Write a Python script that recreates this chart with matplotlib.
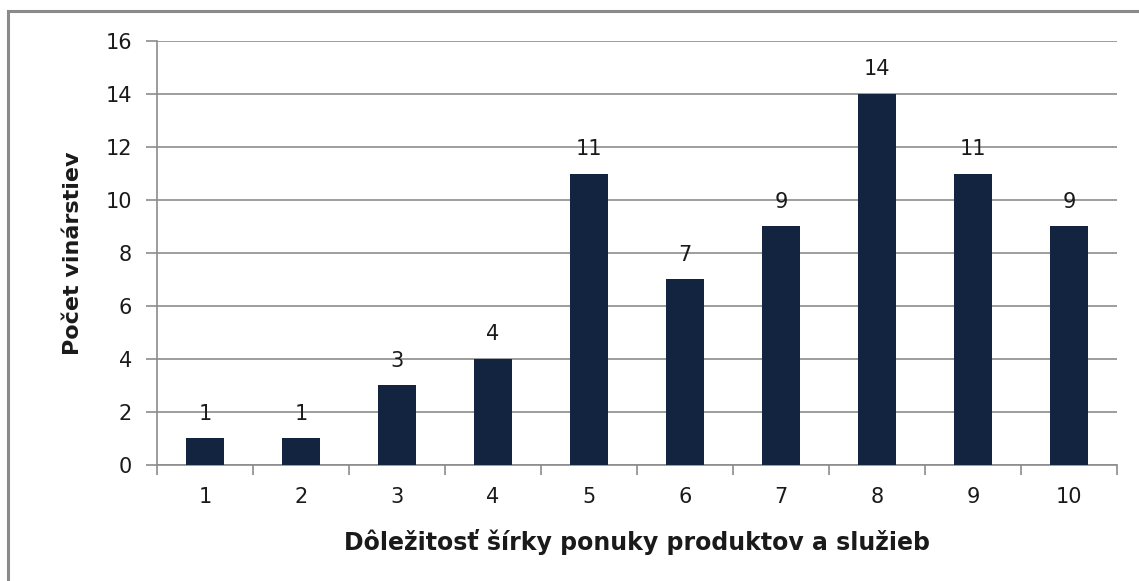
import matplotlib.pyplot as plt
import matplotlib.patches as mpatches

# data
categories = ["1", "2", "3", "4", "5", "6", "7", "8", "9", "10"]
counts = [1, 1, 3, 4, 11, 7, 9, 14, 11, 9]
y_ticks = [0, 2, 4, 6, 8, 10, 12, 14, 16]

x_title = "Dôležitosť šírky ponuky produktov a služieb"
y_title = "Počet vinárstiev"

bar_color = "#12243f"
grid_color = "#8c8c8c"
text_color = "#1a1a1a"

fig = plt.figure(figsize=(11.39, 5.81), dpi=100)
ax = fig.add_axes([0.1378, 0.1997, 0.8429, 0.7297])

# outer frame (only top and left edges fall inside the image)
frame = mpatches.Rectangle((8 / 1139, -0.05), 1.2, 1 - 11 / 581 + 0.05,
                           transform=fig.transFigure, fill=False,
                           edgecolor="#8a8a8a", linewidth=2.2, zorder=0)
fig.patches.append(frame)

xs = list(range(len(categories)))
ax.bar(xs, counts, width=0.4, color=bar_color, zorder=3)

for x, v in zip(xs, counts):
    ax.text(x, v + 0.55, str(v), ha="center", va="bottom",
            fontsize=15, color=text_color)

ax.set_xlim(-0.5, len(categories) - 0.5)
ax.set_ylim(0, 16)
ax.set_yticks(y_ticks)
ax.set_yticklabels([str(t) for t in y_ticks], fontsize=15, color=text_color)
ax.set_xticks(xs)
ax.set_xticklabels(categories, fontsize=15, color=text_color)
ax.set_xticks([x - 0.5 for x in range(len(categories) + 1)], minor=True)

ax.tick_params(axis="x", which="major", length=0, pad=16)
ax.tick_params(axis="x", which="minor", length=7, width=1.2, color=grid_color, direction="out")
ax.tick_params(axis="y", length=8, width=1.2, color=grid_color, direction="out", pad=10)

ax.yaxis.grid(True, color=grid_color, linewidth=1.2, zorder=0)
ax.set_axisbelow(True)

for side in ["top", "right"]:
    ax.spines[side].set_visible(False)
ax.spines["left"].set_color(grid_color)
ax.spines["bottom"].set_color(grid_color)
ax.spines["left"].set_linewidth(1.2)
ax.spines["bottom"].set_linewidth(1.2)

ax.set_xlabel(x_title, fontsize=17, fontweight="bold", color=text_color, labelpad=16)
ax.set_ylabel(y_title, fontsize=16, fontweight="bold", color=text_color, labelpad=16)

fig.savefig("out.png", dpi=100)
